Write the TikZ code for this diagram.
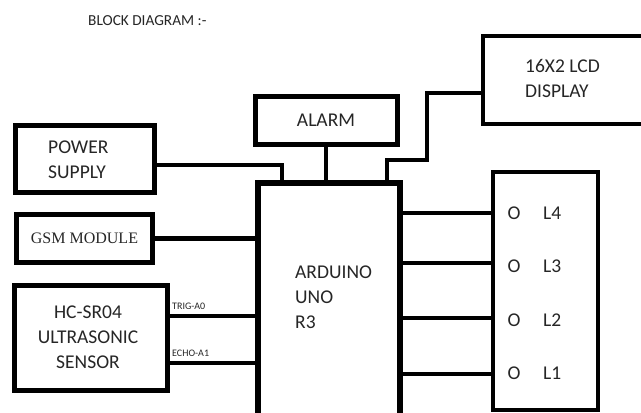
\documentclass[tikz,border=0pt]{standalone}
\usepackage{fontspec}
\setmainfont{Carlito}
\newfontfamily\gsmfont{Liberation Serif}
\begin{document}
\begin{tikzpicture}[x=1pt,y=-1pt,
  blk/.style={draw=black, line width=5pt, rectangle, inner sep=0pt, text=black!85,
    font=\fontsize{19.5}{25}\selectfont, align=center},
  wire/.style={line width=4.5pt, line cap=rect},
  txt/.style={inner sep=0pt, text=black!85, font=\fontsize{19.5}{25}\selectfont},
  pin/.style={inner sep=0pt, text=black!85, font=\fontsize{10}{12}\selectfont}]
\clip (0,0) rectangle (641,413);
\fill[white] (0,0) rectangle (641,413);
% title
\node[txt, font=\fontsize{15.3}{18}\selectfont, anchor=base west] (title) at (88,25) {BLOCK DIAGRAM :-};
% boxes
\node[blk, minimum width=139pt, minimum height=67pt] (ps) at (85,159) {};
\node[txt, align=left, anchor=west] (pst) at (48,160) {POWER\\SUPPLY};
\node[blk, minimum width=142pt, minimum height=48pt] (alarm) at (326,120) {ALARM};
\node[blk, line width=4pt, minimum width=162pt, minimum height=88pt] (lcd) at (563.5,79.5) {};
\node[txt, align=left, anchor=west] (lcdt) at (525,78) {16X2 LCD\\DISPLAY};
\node[blk, line width=5.5pt, minimum width=142pt, minimum height=240pt] (ard) at (329,303) {};
\node[txt, align=left, anchor=west] (ardt) at (295,297) {ARDUINO\\UNO\\R3};
\node[blk, minimum width=136pt, minimum height=48pt, font=\gsmfont\fontsize{16}{19}\selectfont] (gsm) at (84.5,238.5) {GSM MODULE};
\node[blk, minimum width=153pt, minimum height=105pt] (hc) at (91,338) {};
\node[txt, align=center] (hct) at (88,337) {HC-SR04\\ULTRASONIC\\SENSOR};
\node[blk, line width=4pt, minimum width=105pt, minimum height=238pt] (led) at (545.5,291) {};
% led labels
\node[txt] (o4) at (514,213) {O};
\node[txt, anchor=west] (l4) at (543,213) {L4};
\node[txt] (o3) at (514,266) {O};
\node[txt, anchor=west] (l3) at (543,266) {L3};
\node[txt] (o2) at (514,320) {O};
\node[txt, anchor=west] (l2) at (543,320) {L2};
\node[txt] (o1) at (514,373) {O};
\node[txt, anchor=west] (l1) at (543,373) {L1};
% connector helper coordinates
\coordinate (psbend) at (282,165);
\coordinate (lcdx1) at (387,0);
\coordinate (lcdbend1) at (427,160);
\coordinate (lcdy) at (0,93);
\coordinate (trigy) at (0,316);
\coordinate (echoy) at (0,363);
\coordinate (r4) at (0,213);
\coordinate (r3) at (0,263);
\coordinate (r2) at (0,318);
\coordinate (r1) at (0,374);
% connectors
\draw[wire] (psbend -| ps.east) -| (ard.north -| psbend);
\draw[wire] (alarm.south) -- (alarm.south |- ard.north);
\draw[wire] (ard.north -| lcdx1) |- (lcdbend1) |- (lcd.west |- lcdy);
\draw[wire] (gsm.east) -- (gsm.east -| ard.west);
\draw[wire] (hc.east |- trigy) -- (ard.west |- trigy);
\draw[wire] (hc.east |- echoy) -- (ard.west |- echoy);
\draw[wire] (ard.east |- r4) -- (led.west |- r4);
\draw[wire] (ard.east |- r3) -- (led.west |- r3);
\draw[wire] (ard.east |- r2) -- (led.west |- r2);
\draw[wire] (ard.east |- r1) -- (led.west |- r1);
% pin labels
\node[pin, anchor=base west] (trig) at (172,309) {TRIG-A0};
\node[pin, anchor=base west] (echo) at (172,356) {ECHO-A1};
\end{tikzpicture}
\end{document}
